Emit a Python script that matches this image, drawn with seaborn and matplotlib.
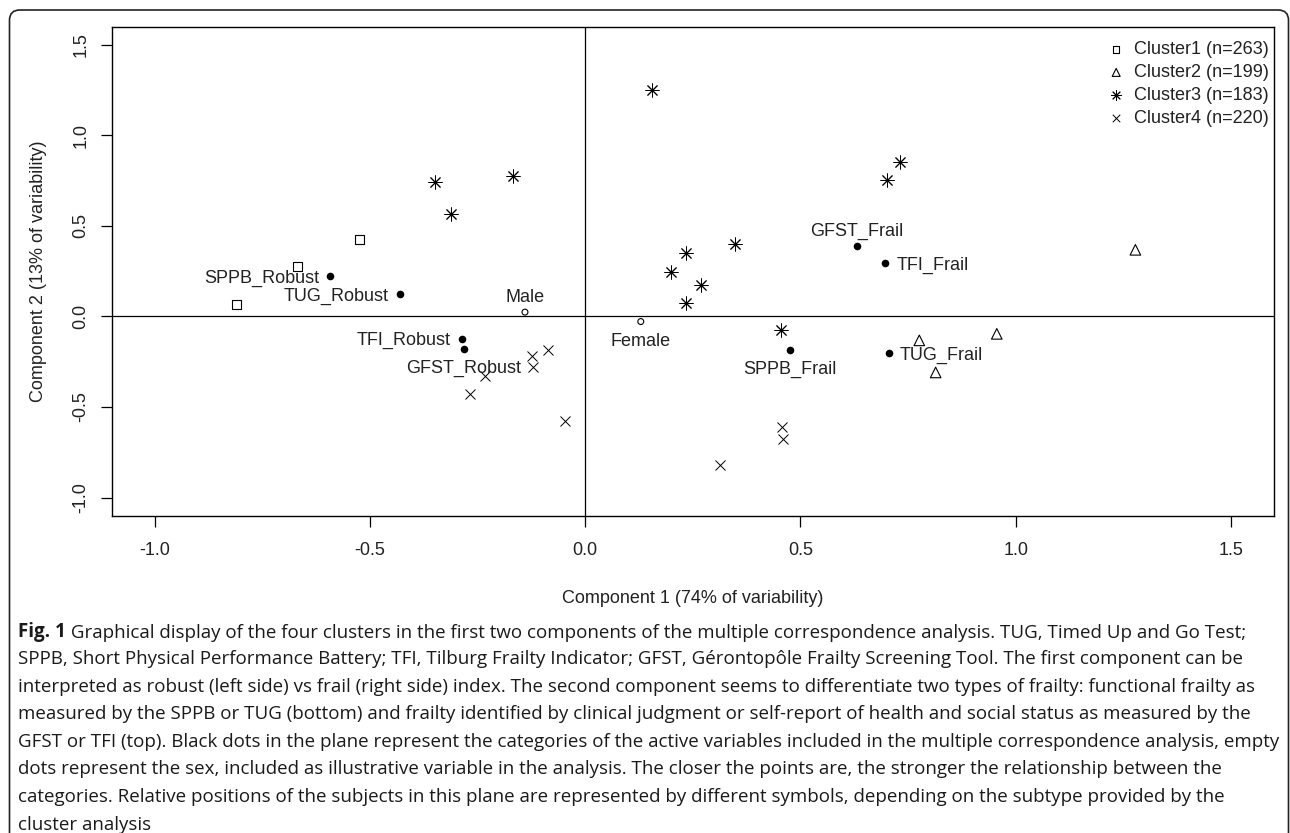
import matplotlib
matplotlib.use("Agg")
import matplotlib.pyplot as plt
from matplotlib.patches import FancyBboxPatch
import pandas as pd
import seaborn as sb

# subjects, by cluster (component 1 / component 2 coordinates)
cluster_names = ["Cluster1 (n=263)", "Cluster2 (n=199)", "Cluster3 (n=183)", "Cluster4 (n=220)"]
c1_x = [-0.81, -0.669, -0.524]
c1_y = [0.064, 0.276, 0.426]
c2_x = [1.278, 0.776, 0.956, 0.814]
c2_y = [0.368, -0.132, -0.096, -0.309]
c3_x = [0.154, -0.348, -0.311, -0.168, 0.732, 0.70, 0.347, 0.233, 0.20, 0.268, 0.234, 0.455]
c3_y = [1.25, 0.744, 0.566, 0.778, 0.855, 0.754, 0.399, 0.349, 0.248, 0.175, 0.074, -0.077]
c4_x = [-0.086, -0.124, -0.122, -0.234, -0.268, -0.047, 0.457, 0.459, 0.313]
c4_y = [-0.184, -0.22, -0.281, -0.327, -0.428, -0.579, -0.608, -0.676, -0.82]

# active variable categories (black dots)
active_names = ["SPPB_Robust", "TUG_Robust", "TFI_Robust", "GFST_Robust",
                "GFST_Frail", "TFI_Frail", "SPPB_Frail", "TUG_Frail"]
active_x = [-0.593, -0.431, -0.287, -0.282, 0.631, 0.697, 0.476, 0.705]
active_y = [0.224, 0.123, -0.123, -0.18, 0.39, 0.294, -0.186, -0.204]

# illustrative variable (empty dots)
sex_names = ["Male", "Female"]
sex_x = [-0.14, 0.129]
sex_y = [0.024, -0.028]

ticks = [-1.0, -0.5, 0.0, 0.5, 1.0, 1.5]
x_title = "Component 1 (74% of variability)"
y_title = "Component 2 (13% of variability)"

caption_bold = "Fig. 1"
caption_lines = [
    " Graphical display of the four clusters in the first two components of the multiple correspondence analysis. TUG, Timed Up and Go Test;",
    "SPPB, Short Physical Performance Battery; TFI, Tilburg Frailty Indicator; GFST, Gérontopôle Frailty Screening Tool. The first component can be",
    "interpreted as robust (left side) vs frail (right side) index. The second component seems to differentiate two types of frailty: functional frailty as",
    "measured by the SPPB or TUG (bottom) and frailty identified by clinical judgment or self-report of health and social status as measured by the",
    "GFST or TFI (top). Black dots in the plane represent the categories of the active variables included in the multiple correspondence analysis, empty",
    "dots represent the sex, included as illustrative variable in the analysis. The closer the points are, the stronger the relationship between the",
    "categories. Relative positions of the subjects in this plane are represented by different symbols, depending on the subtype provided by the",
    "cluster analysis",
]

# where each label sits relative to its point
label_side = {"SPPB_Robust": "left", "TUG_Robust": "left", "TFI_Robust": "left",
              "GFST_Robust": "below", "GFST_Frail": "above", "TFI_Frail": "right",
              "SPPB_Frail": "below", "TUG_Frail": "right", "Male": "above", "Female": "below"}

subjects = pd.concat([
    pd.DataFrame({"dim1": xs, "dim2": ys, "cluster": name})
    for name, xs, ys in zip(cluster_names, [c1_x, c2_x, c3_x, c4_x], [c1_y, c2_y, c3_y, c4_y])
], ignore_index=True)
active = pd.DataFrame({"dim1": active_x, "dim2": active_y, "label": active_names})
sex = pd.DataFrame({"dim1": sex_x, "dim2": sex_y, "label": sex_names})

sb.set_style("ticks")
plt.rcParams["font.family"] = ["Liberation Sans", "DejaVu Sans"]
plt.rcParams["axes.unicode_minus"] = False
fs = 13

fig = plt.figure(figsize=(12.9, 8.33), dpi=100)
ax = fig.add_axes([0.0866, 0.3809, 0.901, 0.5871])

ax.axhline(0, color="black", lw=0.9, zorder=1)
ax.axvline(0, color="black", lw=0.9, zorder=1)

markers = {cluster_names[0]: "s", cluster_names[1]: "^", cluster_names[2]: (8, 2, 0), cluster_names[3]: "x"}
sizes = {cluster_names[0]: 40, cluster_names[1]: 58, cluster_names[2]: 90, cluster_names[3]: 52}
for name in cluster_names:
    sub = subjects[subjects["cluster"] == name]
    m = markers[name]
    if m in ("s", "^"):
        sb.scatterplot(data=sub, x="dim1", y="dim2", marker=m, s=sizes[name], color="black",
                       facecolor="none", edgecolor="black", linewidth=0.8, ax=ax, label=name, zorder=3)
    else:
        sb.scatterplot(data=sub, x="dim1", y="dim2", marker=m, s=sizes[name], color="black",
                       linewidth=0.7, ax=ax, label=name, zorder=3)

sb.scatterplot(data=active, x="dim1", y="dim2", marker="o", s=30, color="black",
               edgecolor="black", linewidth=0, ax=ax, zorder=3)
sb.scatterplot(data=sex, x="dim1", y="dim2", marker="o", s=18, color="black",
               facecolor="none", edgecolor="black", linewidth=0.8, ax=ax, zorder=3)

offsets = {"left": ((-8, 0), "right", "center_baseline"),
           "right": ((8, 0), "left", "center_baseline"),
           "above": ((0, 4.5), "center", "bottom"),
           "below": ((0, -8), "center", "top")}
for df in (active, sex):
    for _, row in df.iterrows():
        off, ha, va = offsets[label_side[row["label"]]]
        ax.annotate(row["label"], (row["dim1"], row["dim2"]), xytext=off, textcoords="offset points",
                    ha=ha, va=va, fontsize=fs, color="#222222")

ax.set_xlim(-1.1, 1.6)
ax.set_ylim(-1.1, 1.6)
ax.set_xticks(ticks)
ax.set_yticks(ticks)
ax.set_xticklabels([f"{t:.1f}" for t in ticks])
ax.set_yticklabels([f"{t:.1f}" for t in ticks], rotation=90, va="center")
ax.tick_params(axis="both", direction="out", length=8, width=0.9, labelsize=fs, colors="black",
               labelcolor="#222222")
ax.tick_params(axis="x", pad=11)
ax.tick_params(axis="y", pad=8)
for sp in ax.spines.values():
    sp.set_color("black")
    sp.set_linewidth(1.0)

ax.set_xlabel(x_title, fontsize=fs, color="#222222")
ax.set_ylabel(y_title, fontsize=fs, color="#222222")
ax.xaxis.set_label_coords(0.5, -0.152)
ax.yaxis.set_label_coords(-0.056, 0.5)

ax.legend(loc="upper right", bbox_to_anchor=(1.002, 0.985), frameon=False, fontsize=fs,
          markerscale=0.75, scatterpoints=1, handlelength=0.8, handletextpad=0.6,
          labelspacing=0.33, borderaxespad=0.0, borderpad=0.4, labelcolor="#222222")

# rounded frame round the whole figure
W, H = 1290, 833
frame = FancyBboxPatch((9.5 / W, -0.05), 1288.5 / W - 9.5 / W, 1 - 10 / H + 0.05,
                       boxstyle="round,pad=0,rounding_size=0.008", mutation_aspect=W / H,
                       transform=fig.transFigure, fill=False, lw=1.2, ec="#222222")
fig.patches.append(frame)

# caption
cap_fs = 13.5
cap_family = ["Open Sans", "DejaVu Sans"]
cap_x = 18 / W
line_gap = 27.6
y0 = 632 + 4.5
bold = fig.text(cap_x, 1 - y0 / H, caption_bold, fontsize=cap_fs, fontweight="bold",
                family=cap_family, va="baseline", color="#1a1a1a")
ax.annotate(caption_lines[0], xy=(1, 0), xycoords=bold, xytext=(0, 0), textcoords="offset points",
            va="bottom", ha="left", fontsize=cap_fs, family=cap_family,
            color="#1a1a1a", annotation_clip=False)
for i, line in enumerate(caption_lines[1:], start=1):
    fig.text(cap_x, 1 - (y0 + i * line_gap) / H, line, fontsize=cap_fs,
             family=cap_family, va="baseline", color="#1a1a1a")

fig.savefig("out.png", dpi=100)
